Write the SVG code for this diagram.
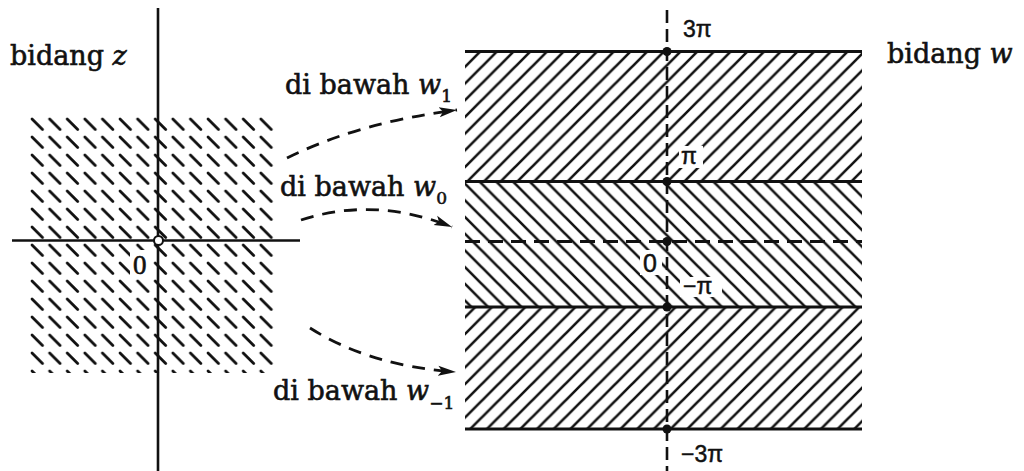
<svg xmlns="http://www.w3.org/2000/svg" width="1024" height="471" viewBox="0 0 1024 471">
<style>
.lbl{font-family:"DejaVu Serif","Liberation Serif",serif;font-size:27px;fill:#111;stroke:#111;stroke-width:0.6}
.it{font-style:italic}
.sub{font-size:17px}
.num{font-family:"Liberation Sans","DejaVu Sans",sans-serif;font-size:23px;fill:#111;stroke:#111;stroke-width:0.5}
.ax{stroke:#111;stroke-width:2.6;fill:none}
.bd{stroke:#111;stroke-width:2.8;fill:none}
.con{stroke:#111;stroke-width:2.8;fill:none;stroke-dasharray:13 9}
.hl{stroke:#111;stroke-width:2.6;fill:none}
</style>
<defs>
<pattern id="hz" patternUnits="userSpaceOnUse" x="30" y="117" width="17.6" height="18">
<line x1="2" y1="2" x2="12.5" y2="12.5" stroke="#111" stroke-width="2.8" stroke-linecap="round"/>
</pattern>
<!-- forward slash "/" -->
<pattern id="hf" patternUnits="userSpaceOnUse" x="465" y="0" width="16.7" height="16.7">
<path class="hl" d="M0,16.7 L16.7,0 M-4,4 L4,-4 M12.7,20.7 L20.7,12.7"/>
</pattern>
<!-- back slash "\" -->
<pattern id="hb" patternUnits="userSpaceOnUse" x="465" y="0" width="16.7" height="16.7">
<path class="hl" d="M0,0 L16.7,16.7 M-4,12.7 L4,20.7 M12.7,-4 L20.7,4"/>
</pattern>
<marker id="ah" markerUnits="userSpaceOnUse" markerWidth="20" markerHeight="12" refX="18" refY="6" orient="auto">
<path d="M0,1 L18,6 L0,11 L4,6 z" fill="#111"/>
</marker>
</defs>
<rect width="1024" height="471" fill="#fff"/>

<g id="z-plane">
<rect x="30" y="117" width="244" height="256" fill="url(#hz)"/>
<rect x="130" y="250" width="22" height="28" fill="#fff"/>
<line class="ax" x1="158" y1="8" x2="158" y2="471"/>
<line class="ax" x1="12" y1="240.5" x2="300" y2="240.5"/>
<circle cx="158.5" cy="240.5" r="4.5" fill="#fff" stroke="#111" stroke-width="2"/>
<text class="lbl" x="133" y="274" style="font-family:'Liberation Serif',serif;font-size:27px">0</text>
<text class="lbl" x="10" y="65">bidang <tspan class="it">z</tspan></text>
</g>

<g id="w-plane">
<rect x="465" y="51.5" width="397" height="130" fill="url(#hf)"/>
<rect x="465" y="181.5" width="397" height="125.5" fill="url(#hb)"/>
<rect x="465" y="307" width="397" height="122" fill="url(#hf)"/>
<line class="bd" x1="465" y1="51.5" x2="862" y2="51.5"/>
<line class="bd" x1="465" y1="181.5" x2="862" y2="181.5"/>
<line class="bd" x1="465" y1="241.5" x2="862" y2="241.5" stroke-dasharray="15 8"/>
<line class="bd" x1="465" y1="307" x2="862" y2="307"/>
<line class="bd" x1="465" y1="429" x2="862" y2="429"/>
<line class="ax" x1="667" y1="10" x2="667" y2="471" stroke-dasharray="13 6"/>
<circle cx="667" cy="51.5" r="4.5" fill="#111"/>
<circle cx="667" cy="181.5" r="4.5" fill="#111"/>
<circle cx="667" cy="241.5" r="4.5" fill="#111"/>
<circle cx="667" cy="307" r="4.5" fill="#111"/>
<circle cx="667" cy="429" r="4.5" fill="#111"/>
<rect x="679" y="146" width="24" height="22" fill="#fff"/>
<rect x="640" y="250" width="22" height="25" fill="#fff"/>
<rect x="680" y="277" width="42" height="20" fill="#fff"/>
<text class="num" x="683" y="37">3π</text>
<text class="num" x="681" y="164">π</text>
<text class="num" x="643" y="272" style="font-size:25px">0</text>
<text class="num" x="683" y="294">−π</text>
<text class="num" x="681" y="462">−3π</text>
<text class="lbl" x="887" y="63">bidang <tspan class="it">w</tspan></text>
</g>

<g id="maps">
<text class="lbl" x="285" y="94">di bawah <tspan class="it">w</tspan><tspan class="sub" dy="8">1</tspan></text>
<text class="lbl" x="280" y="196">di bawah <tspan class="it">w</tspan><tspan class="sub" dy="8">0</tspan></text>
<text class="lbl" x="273" y="400">di bawah <tspan class="it">w</tspan><tspan class="sub" dy="9">−1</tspan></text>
</g>

<g id="connectors">
<path class="con" d="M287,158 Q360,122 457,110" marker-end="url(#ah)"/>
<path class="con" d="M301,220 Q375,196 452,227" marker-end="url(#ah)"/>
<path class="con" d="M310,328 Q370,366 456,372" marker-end="url(#ah)"/>
</g>
</svg>
